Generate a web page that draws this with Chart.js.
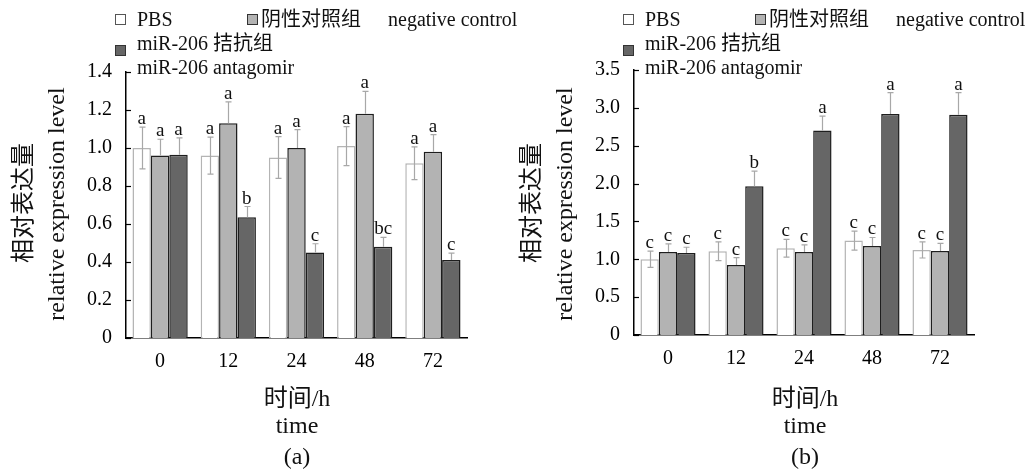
<!DOCTYPE html>
<html>
<head>
<meta charset="utf-8">
<script src="https://cdn.jsdelivr.net/npm/chart.js@4.4.1/dist/chart.umd.min.js"></script>
<style>
    body { margin: 0; background: #fff; }
    #wrap { position: relative; width: 1030px; height: 473px; overflow: hidden;
            font-family: 'Liberation Serif', 'Noto Sans CJK SC', serif; color: #111; }
    canvas { position: absolute; top: 0; }
    .txt { position: absolute; white-space: nowrap; font-size: 20px; line-height: 20px; }
    .box { position: absolute; width: 9px; height: 9px; border: 1px solid #333; }
    .ytitle { position: absolute; white-space: nowrap; font-size: 24px; line-height: 24px;
              transform: translate(-50%, -50%) rotate(-90deg); }
    .xtitle { position: absolute; white-space: nowrap; font-size: 24px; line-height: 24px;
              transform: translate(-50%, -50%); }
</style>
</head>
<body>
<div id="wrap">
    <canvas id="chartA" width="515" height="473"></canvas>
    <canvas id="chartB" width="515" height="473" style="left:508px"></canvas>
</div>
<script>
// Categories (time, h)
const categories = ['0', '12', '24', '48', '72'];

// Legend labels
const seriesNames = ['PBS', '阴性对照组', 'miR-206 拮抗组'];

// (a) values, errors and significance letters
const pbsA = [1.00, 0.96, 0.95, 1.01, 0.92];
const ncA = [0.96, 1.13, 1.00, 1.18, 0.98];
const antiA = [0.965, 0.635, 0.45, 0.48, 0.41];
const pbsErrA = [0.11, 0.097, 0.11, 0.103, 0.086];
const ncErrA = [0.086, 0.113, 0.097, 0.118, 0.09];
const antiErrA = [0.088, 0.057, 0.046, 0.05, 0.037];
const pbsLetA = ['a', 'a', 'a', 'a', 'a'];
const ncLetA = ['a', 'a', 'a', 'a', 'a'];
const antiLetA = ['a', 'b', 'c', 'bc', 'c'];

// (b) values, errors and significance letters
const pbsB = [1.00, 1.106, 1.146, 1.247, 1.124];
const ncB = [1.097, 0.924, 1.097, 1.177, 1.11];
const antiB = [1.083, 1.965, 2.70, 2.92, 2.91];
const pbsErrB = [0.108, 0.125, 0.117, 0.126, 0.107];
const ncErrB = [0.106, 0.097, 0.093, 0.111, 0.10];
const antiErrB = [0.076, 0.20, 0.19, 0.28, 0.29];
const pbsLetB = ['c', 'c', 'c', 'c', 'c'];
const ncLetB = ['c', 'c', 'c', 'c', 'c'];
const antiLetB = ['c', 'b', 'a', 'a', 'a'];

// Axis ticks
const yMaxA = 1.4, yStepA = 0.2;
const yMaxB = 3.5, yStepB = 0.5;

const FONT = "'Liberation Serif', 'Noto Sans CJK SC', serif";

// Error bars + letters above each bar
const errorBarPlugin = {
    id: 'errorBars',
    afterDatasetsDraw(chart) {
        const ctx = chart.ctx;
        const yScale = chart.scales.y;
        ctx.save();
        chart.data.datasets.forEach((ds, i) => {
            const meta = chart.getDatasetMeta(i);
            meta.data.forEach((bar, j) => {
                const v = ds.data[j];
                const e = ds.errors[j];
                const yTop = yScale.getPixelForValue(v + e);
                const yBot = yScale.getPixelForValue(v - e);
                const x = Math.round(bar.x) + 0.5;
                ctx.strokeStyle = '#a8a8a8';
                ctx.lineWidth = 1.2;
                ctx.beginPath();
                ctx.moveTo(x, i === 0 ? yBot : bar.y);
                ctx.lineTo(x, yTop);
                ctx.moveTo(x - 3, yTop);
                ctx.lineTo(x + 3, yTop);
                if (i === 0) {
                    ctx.moveTo(x - 3, yBot);
                    ctx.lineTo(x + 3, yBot);
                }
                ctx.stroke();
                ctx.fillStyle = '#111';
                ctx.font = '19px ' + FONT;
                ctx.textAlign = 'center';
                ctx.textBaseline = 'alphabetic';
                ctx.fillText(ds.letters[j], bar.x, yTop - 3);
            });
        });
        ctx.restore();
    }
};

// Small inward tick marks on the y axis
const innerTicksPlugin = {
    id: 'innerTicks',
    afterDraw(chart) {
        const ctx = chart.ctx;
        const y = chart.scales.y;
        ctx.save();
        ctx.strokeStyle = '#000';
        ctx.lineWidth = 1.2;
        y.ticks.forEach(t => {
            const py = Math.round(y.getPixelForValue(t.value)) + 0.5;
            ctx.beginPath();
            ctx.moveTo(y.right, py);
            ctx.lineTo(y.right + 5, py);
            ctx.stroke();
        });
        ctx.restore();
    }
};

function makeChart(id, pbs, nc, anti, errs, lets, yMax, yStep, pad, xHeight) {
    const ctx = document.getElementById(id).getContext('2d');
    return new Chart(ctx, {
        type: 'bar',
        data: {
            labels: categories,
            datasets: [{
                label: seriesNames[0],
                data: pbs,
                errors: errs[0],
                letters: lets[0],
                backgroundColor: '#ffffff',
                borderColor: '#b4b4b4',
                borderWidth: 1.5
            }, {
                label: seriesNames[1],
                data: nc,
                errors: errs[1],
                letters: lets[1],
                backgroundColor: '#b3b3b3',
                borderColor: '#1e1e1e',
                borderWidth: 1.5
            }, {
                label: seriesNames[2],
                data: anti,
                errors: errs[2],
                letters: lets[2],
                backgroundColor: '#666666',
                borderColor: '#1e1e1e',
                borderWidth: 1.5
            }]
        },
        options: {
            responsive: false,
            animation: false,
            devicePixelRatio: 1,
            layout: { padding: pad },
            categoryPercentage: 0.81,
            barPercentage: 1.0,
            plugins: {
                legend: { display: false },
                tooltip: { enabled: false }
            },
            scales: {
                x: {
                    grid: { display: false, drawTicks: false },
                    border: { display: true, color: '#000', width: 1.5 },
                    ticks: {
                        color: '#000',
                        padding: 12,
                        font: { family: FONT, size: 20 }
                    },
                    afterFit: s => { s.height = xHeight; }
                },
                y: {
                    min: 0,
                    max: yMax,
                    grid: { display: false, drawTicks: false },
                    border: { display: true, color: '#000', width: 1.5 },
                    ticks: {
                        stepSize: yStep,
                        color: '#000',
                        padding: 14,
                        font: { family: FONT, size: 20 },
                        callback: v => v === 0 ? '0' : v.toFixed(1)
                    },
                    afterFit: s => { s.width = 126; }
                }
            }
        },
        plugins: [errorBarPlugin, innerTicksPlugin]
    });
}

makeChart('chartA', pbsA, ncA, antiA,
    [pbsErrA, ncErrA, antiErrA], [pbsLetA, ncLetA, antiLetA],
    yMaxA, yStepA, { top: 72, right: 48, left: 0, bottom: 0 }, 135);

makeChart('chartB', pbsB, ncB, antiB,
    [pbsErrB, ncErrB, antiErrB], [pbsLetB, ncLetB, antiLetB],
    yMaxB, yStepB, { top: 70, right: 49, left: 0, bottom: 0 }, 138);

// Legend and axis titles for both panels
const wrap = document.getElementById('wrap');
function addEl(cls, text, left, top, style) {
    const d = document.createElement('div');
    d.className = cls;
    d.textContent = text;
    d.style.left = left + 'px';
    d.style.top = top + 'px';
    if (style) Object.assign(d.style, style);
    wrap.appendChild(d);
}
[0, 508].forEach((dx, k) => {
    addEl('box', '', 115 + dx, 14, { background: '#fff', borderColor: '#555' });
    addEl('txt', seriesNames[0], 137 + dx, 9);
    addEl('box', '', 247 + dx, 14, { background: '#b3b3b3' });
    addEl('txt', seriesNames[1], 261 + dx, 9);
    addEl('txt', 'negative control', 388 + dx, 9);
    addEl('box', '', 115 + dx, 45, { background: '#666' });
    addEl('txt', seriesNames[2], 137 + dx, 33);
    addEl('txt', 'miR-206 antagomir', 137 + dx, 57);
    addEl('ytitle', '相对表达量', 23 + dx, 203);
    addEl('ytitle', 'relative expression level', 56 + dx, 204);
    addEl('xtitle', '时间/h', 297 + dx, 398);
    addEl('xtitle', 'time', 297 + dx, 425);
    addEl('xtitle', k === 0 ? '(a)' : '(b)', 297 + dx, 456);
});
</script>
</body>
</html>
